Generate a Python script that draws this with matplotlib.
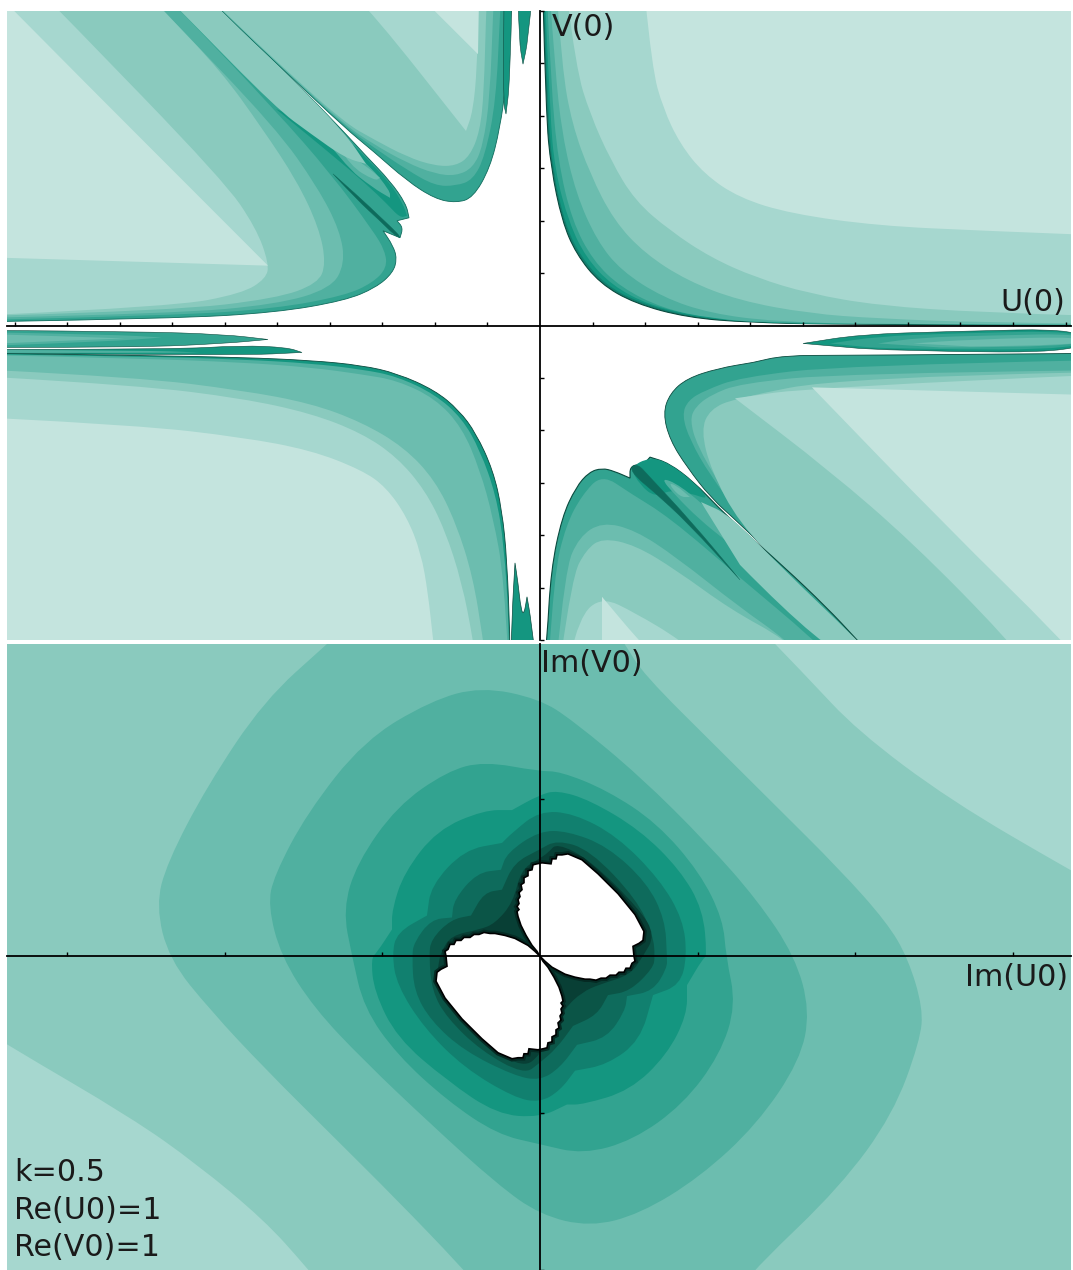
import matplotlib
matplotlib.use('Agg')
import matplotlib.pyplot as plt
from matplotlib.path import Path
from matplotlib.patches import PathPatch
import numpy as np

W, H = 1073, 1270

# band colours, light (far from origin) to dark (close to the boundary)
C1, C2, C3, C4, C5, C6 = '#c4e4de', '#a6d7cf', '#8acabe', '#6cbdaf', '#50b0a0', '#32a390'
C7, C8, C9, C10, C11, C12 = '#149680', '#11806f', '#0e6b5c', '#0b5547', '#083f35', '#052a23'
EDGE = '#0a4a3e'
THIN = '#0e6b5c'

tick_top = 52.55
tick_bottom = 157.7

# ---- top panel, upper right quadrant (U>0, V>0), contours
ur_edge = [[3,330],[6,212],[11,158],[22,105],[36,72],[60,42],[95,22],[147,8],[209,3],[303,1],[545,0]]
ur_c7 = [[4,330],[8,212],[13,155],[25,102],[40,70],[65,41],[99,23],[150,9],[210,3],[303,1],[545,1]]
ur_c6 = [[5,330],[10,212],[15,155],[29,103],[46,68],[72,40],[110,20],[160,9],[220,3],[303,1],[545,1]]
ur_c5 = [[7,330],[11,242],[18,165],[32,105],[53,65],[81,38],[123,17],[171,7],[234,2],[545,1]]
ur_c4 = [[10,330],[15,258],[22,192],[36,132],[57,85],[81,55],[123,28],[171,12],[234,4],[338,1],[545,1]]
ur_c3 = [[17,330],[22,258],[32,202],[50,152],[74,105],[105,72],[147,45],[199,25],[269,12],[338,7],[442,3],[545,2]]
ur_c2 = [[27,330],[36,258],[50,212],[71,165],[95,125],[130,95],[171,68],[216,48],[269,32],[338,20],[442,13],[545,10]]
ur_c1 = [[105,330],[112,258],[123,218],[140,182],[164,152],[199,128],[251,112],[338,100],[442,95],[545,91]]

# ---- upper left quadrant
ul_edge = [[-540,4],[-367,7],[-264,13],[-195,25],[-164,38],[-147,53],[-143,67],[-147,80],[-157,95],[-157,95],
           [-140,88],[-140,88],[-137,98],[-143,105],[-143,105],[-131,108],[-131,108],[-134,122],[-150,145],
           [-174,170],[-195,193],[-253,253],[-316,313],[-332,330]]
ul_c5 = [[-540,6],[-367,10],[-264,17],[-195,30],[-167,43],[-153,58],[-155,75],[-167,95],[-209,152],[-264,215],
         [-357,313],[-374,330]]
ul_c4 = [[-540,8],[-367,12],[-264,21],[-209,37],[-195,62],[-200,95],[-222,138],[-264,198],[-374,313],[-390,330]]
ul_c3 = [[-540,10],[-367,15],[-264,27],[-222,42],[-214,62],[-221,98],[-243,145],[-278,198],[-319,255],
         [-374,313],[-390,330]]
ul_c2 = [[-540,11],[-367,19],[-298,32],[-274,47],[-271,62],[-284,98],[-316,145],[-478,313],[-495,330]]
ul_c1 = [[-540,68],[-272,60],[-272,60],[-524,313],[-540,330]]
ul_strip = [[-374,330],[-357,313],[-264,218],[-229,192],[-195,168],[-174,162],[-174,162],[-195,193],[-253,253],
            [-316,313],[-332,330]]
ul_tip_c7 = [[-264,217],[-195,190],[-174,168],[-150,143],[-137,122],[-133,110],[-133,110],[-140,108],[-153,122],
             [-174,142],[-209,172],[-264,217]]
ul_tip_c5 = [[-229,205],[-195,180],[-170,160],[-150,135],[-150,128],[-150,128],[-167,138],[-195,160],[-229,205]]
ul_tip_c4 = [[-200,178],[-174,160],[-160,148],[-160,148],[-165,145],[-190,160],[-200,178]]
ul_streak = [[-207,152],[-181,129],[-160,109],[-142,92],[-140,88],[-140,88],[-146,91],[-160,105],[-183,126],[-207,152]]

lc_edge = [[-332,330],[-316,313],[-253,253],[-195,198],[-167,175],[-133,145],[-105,127],[-84,123],[-67,128],
           [-50,158],[-40,198],[-34,242],[-29,313],[-28,330]]
lc_c5 = [[-332,330],[-316,313.5],[-253,253.5],[-195,199.5],[-167,179],[-133,156],[-105,140],[-84,140],[-67,146],
         [-55,170],[-44,225],[-40,313],[-39,330]]
lc_c4 = [[-332,330],[-316,314],[-253,254],[-195,201],[-167,182],[-133,163],[-105,152],[-84,150],[-67,158],
         [-57,180],[-50,230],[-47,313],[-46,330]]
lc_c3 = [[-332,330],[-316,314.5],[-253,255],[-195,203],[-167,187],[-133,169],[-105,160],[-84,160],[-70,170],
         [-60,195],[-56,235],[-54,313],[-53,330]]
lc_c2 = [[-185,330],[-167,313],[-74,195],[-74,195],[-67,215],[-63,258],[-62,313],[-61,330]]
lc_c1 = [[-120,330],[-62,272],[-62,272],[-61,330]]
ul_spike1 = [[-22,330],[-21,285],[-17,262],[-17,262],[-12,285],[-8,330]]
ul_spike2 = [[-28,330],[-30,245],[-34,212],[-34,212],[-37,225],[-36,330]]

# ---- lower left quadrant
ll_edge = [[-540,-28],[-402,-30],[-298,-32],[-229,-35],[-178,-40],[-143,-48],[-105,-65],[-81,-85],[-64,-108],
           [-47,-145],[-38,-185],[-33,-235],[-30,-315],[-30,-330]]
ll_c5 = [[-540,-29],[-402,-31],[-298,-34],[-229,-38],[-178,-44],[-143,-51],[-105,-69],[-78,-93],[-60,-125],
         [-44,-170],[-36,-220],[-31,-300],[-31,-330]]
ll_c4 = [[-540,-30],[-402,-33],[-298,-37],[-229,-42],[-178,-49],[-143,-55],[-105,-73],[-78,-102],[-60,-145],
         [-47,-192],[-36,-252],[-32,-330]]
ll_c3 = [[-540,-45],[-402,-52],[-298,-65],[-229,-78],[-178,-97],[-136,-122],[-105,-155],[-84,-198],[-67,-252],
         [-57,-315],[-55,-330]]
ll_c2 = [[-540,-52],[-402,-60],[-298,-73],[-229,-88],[-178,-108],[-143,-132],[-115,-165],[-95,-205],[-78,-258],
         [-67,-315],[-65,-330]]
ll_c1 = [[-540,-93],[-402,-100],[-298,-112],[-229,-125],[-178,-145],[-154,-162],[-133,-192],[-119,-228],
         [-112,-268],[-107,-315],[-105,-330]]
ll_lobe1 = [[-540,-5],[-402,-6],[-315,-9],[-272,-14],[-272,-14],[-315,-18],[-402,-22],[-540,-22]]
ll_lobe1_c5 = [[-540,-7],[-430,-9],[-378,-12],[-378,-12],[-430,-16],[-540,-20]]
ll_lobe1_c4 = [[-540,-9],[-470,-11],[-415,-13],[-415,-13],[-470,-15],[-540,-18]]
ll_lobe2 = [[-540,-24],[-367,-24],[-298,-20],[-253,-22],[-238,-27],[-238,-27],[-298,-30],[-540,-28]]
ll_lobe2_c5 = [[-540,-24.5],[-400,-25],[-340,-27],[-340,-27],[-400,-27.5],[-540,-27.5]]
ll_spikes = [[-29,-330],[-28,-290],[-25,-238],[-25,-238],[-22,-258],[-19,-285],[-16,-290],[-13,-272],[-13,-272],
             [-9,-295],[-5,-330]]

# ---- lower right quadrant
lr_lobe = [[263,-18],[263,-18],[320,-9],[408,-6],[545,-3],[545,-27],[373,-26],[320,-23]]
lr_lobe_c6 = [[290,-18],[290,-18],[338,-11],[408,-8],[545,-5],[545,-24],[373,-24],[330,-22]]
lr_lobe_c5 = [[338,-18],[338,-18],[380,-12],[450,-10],[545,-8],[545,-22],[400,-22]]
lr_lobe_c4 = [[373,-18],[373,-18],[430,-14],[545,-11],[545,-20],[430,-21]]

lr_edge = [[545,-28],[303,-30],[244,-30],[213,-37],[213,-37],[178,-43],[147,-53],[130,-68],[123,-88],[130,-115],
           [147,-142],[171,-173],[199,-198],[244,-242],[286,-282],[317,-315],[332,-332]]
lr_c5 = [[545,-35],[303,-40],[200,-52],[165,-65],[148,-75],[142,-90],[150,-115],[170,-150],[200,-190],[244,-240],
         [290,-290],[330,-332]]
lr_c4 = [[545,-45],[303,-48],[200,-58],[170,-70],[155,-82],[150,-95],[157,-120],[180,-160],[205,-195],[250,-245],
         [295,-295],[335,-332]]
lr_c3 = [[545,-47],[303,-52],[195,-73],[170,-84],[161,-105],[171,-145],[199,-198],[248,-248],[286,-285],
         [314,-315],[330,-332]]
lr_c2 = [[545,-50],[272,-62],[195,-73],[195,-73],[289,-145],[373,-218],[468,-315],[480,-332]]
lr_c1 = [[272,-62],[272,-62],[407,-202],[522,-315],[535,-332]]

lo_edge = [[5,-332],[7,-315],[11,-245],[22,-192],[36,-162],[49,-147],[62,-143],[74,-146],[90,-153],[90,-153],
           [90,-142],[98,-139],[103,-140],[110,-132],[110,-132],[129,-138],[154,-157],[178,-182],[199,-202],
           [244,-242],[286,-282],[317,-315],[332,-332]]
lo_c5 = [[9,-332],[14,-250],[26,-200],[42,-170],[62,-149],[90,-168],[129,-192],[199,-252],[274,-315],[290,-332]]
lo_c4 = [[17,-332],[25,-245],[39,-212],[62,-197],[95,-205],[136,-232],[199,-282],[246,-315],[262,-332]]
lo_c3 = [[21,-332],[32,-252],[46,-225],[62,-213],[95,-220],[136,-245],[191,-285],[246,-315],[262,-332]]
lo_c2 = [[30,-332],[39,-292],[62,-272],[95,-288],[140,-315],[160,-332]]
lo_c1 = [[62,-272],[62,-272],[98,-315],[115,-332],[62,-332]]
lo_strip = [[161,-177],[161,-177],[190,-190],[244,-245],[317,-315],[332,-332],[290,-332],[200,-240]]
lo_wedge_c7 = [[90,-142],[110,-132],[129,-138],[154,-157],[170,-175],[150,-168],[130,-165],[115,-172],[100,-160]]
lo_wedge_c5 = [[120,-152],[140,-160],[175,-190],[185,-215],[185,-215],[160,-195],[135,-170]]
lo_wedge_c4 = [[128,-158],[136,-160],[150,-172],[150,-172],[140,-172]]
lo_streak = [[90,-142],[98,-139],[108,-150],[150,-195],[200,-255],[200,-255],[148,-198],[112,-165],[96,-152]]

# ---- bottom panel, closed level curves around the white set
b_c2_top = [[215,335],[267,281],[317,227],[410,157],[531,86],[560,70]]
b_c2_low = [[-560,-72],[-533,-89],[-409,-162],[-343,-209],[-276,-265],[-234,-312],[-215,-335]]
b_c4 = [[-190,335],[-213,314],[-276,257],[-333,171],[-373,94],[-384,51],[-371,-3],[-329,-55],[-276,-112],[-209,-179],
        [-143,-245],[-79,-312],[-60,-335],[200,-335],[217,-312],[300,-232],[353,-159],[380,-85],[383,-52],[368,-2],
        [347,34],[300,87],[233,154],[180,207],[103,284],[85,314],[70,335]]
b_c5 = [[-1,259],[-59,271],[-109,257],[-176,217],[-233,144],[-266,81],[-272,51],[-259,0],[-226,-52],[-176,-105],
        [-109,-169],[-43,-229],[0,-260],[50,-272],[100,-259],[160,-222],[217,-169],[260,-105],[270,-55],[255,0],
        [217,57],[167,114],[100,181],[33,237]]
b_c6 = [[-1,186],[-56,196],[-93,186],[-143,151],[-183,94],[-197,47],[-188,0],[-176,-52],[-143,-99],[-93,-145],
        [-43,-179],[0,-189],[43,-199],[93,-185],[143,-149],[180,-99],[196,-49],[186,0],[183,37],[160,84],[117,134],
        [67,167],[20,186]]
b_c7 = [[-1,162],[-28,147],[-28,147],[-56,147],[-103,127],[-136,84],[-148,47],[-148,27],[-148,27],[-163,4],[-169,-2],
        [-166,-35],[-143,-82],[-93,-125],[-43,-159],[0,-162],[27,-149],[27,-149],[43,-149],[90,-135],[127,-99],[147,-59],
        [147,-29],[147,-29],[163,-2],[167,0],[163,47],[140,87],[100,127],[50,157],[17,167]]
b_c8 = [[-1,146],[-28,124],[-38,114],[-38,114],[-76,107],[-109,71],[-113,41],[-113,41],[-143,24],[-148,2],[-143,-29],
        [-116,-72],[-76,-112],[-26,-142],[0,-147],[20,-135],[35,-115],[35,-115],[67,-109],[100,-85],[113,-39],[113,-39],
        [140,-29],[147,0],[143,37],[120,77],[77,121],[33,144]]
b_c9 = [[-1,126],[-33,104],[-39,87],[-39,87],[-63,84],[-86,57],[-88,39],[-88,39],[-109,37],[-126,14],[-128,0],
        [-126,-35],[-109,-65],[-76,-95],[-26,-120],[0,-125],[20,-112],[37,-89],[37,-89],[67,-82],[85,-55],[87,-40],
        [87,-40],[113,-35],[127,-12],[127,0],[125,37],[107,74],[67,111],[27,126]]
b_c10 = [[-1,107],[-26,94],[-38,67],[-38,67],[-56,64],[-69,41],[-69,41],[-89,37],[-109,17],[-111,0],[-108,-35],
         [-93,-62],[-59,-95],[-16,-119],[0,-107],[17,-92],[33,-70],[33,-70],[57,-59],[68,-39],[68,-39],[90,-35],
         [113,-12],[115,0],[113,21],[97,57],[50,107],[17,117]]
b_c11 = [[-1,98],[-19,87],[-27,54],[-45,33],[-60,27],[-89,21],[-99,4],[-101,-5],[-104,-25],[-89,-55],[-53,-92],
         [-16,-112],[0,-99],[10,-79],[25,-52],[42,-36],[60,-28],[90,-19],[103,0],[115,21],[100,47],[50,97],[17,114],[8,104]]

# upper lobe of the white set, the lower one is the same lobe through the origin
blob_lobe = [[0,0],[-3,5],[-8,11],[-14,21],[-19,31],[-22,40],[-23,45],[-21,47],[-23,50],[-21,53],[-22,57],[-20,60],
             [-21,64],[-18,67],[-19,72],[-16,74],[-16,79],[-12,81],[-12,86],[-8,87],[-7,92],[-3,93],[2,94],[11,93],
             [12,98],[16,98],[17,102],[22,102],[28,103],[42,97],[58,83],[78,63],[95,42],[104,25],[103,16],[99,13],
             [93,10],[94,0],[95,-5],[92,-7],[90,-12],[86,-12],[84,-16],[79,-16],[76,-19],[70,-19],[66,-22],[61,-22],
             [56,-24],[50,-23],[45,-23],[35,-21],[25,-18],[12,-11],[5,-5]]

top_labels = ['V(0)', 'U(0)']
bottom_labels = ['Im(V0)', 'Im(U0)']
params = ['k=0.5', 'Re(U0)=1', 'Re(V0)=1']


def open_path(pts, close):
    # smooth curve through the read points, straight lines back along close
    pts = np.array(pts, float)
    verts = [pts[0]]
    codes = [Path.MOVETO]
    for i in range(1, len(pts) - 1):
        end = (pts[i] + pts[i + 1]) / 2 if i < len(pts) - 2 else pts[i + 1]
        verts += [pts[i], end]
        codes += [Path.CURVE3, Path.CURVE3]
    if len(pts) == 2:
        verts.append(pts[1])
        codes.append(Path.LINETO)
    for c in close:
        verts.append(c)
        codes.append(Path.LINETO)
    verts.append(pts[0])
    codes.append(Path.CLOSEPOLY)
    return Path(verts, codes)


def loop_path(pts):
    pts = np.array(pts, float)
    n = len(pts)
    verts = [(pts[-1] + pts[0]) / 2]
    codes = [Path.MOVETO]
    for i in range(n):
        verts += [pts[i], (pts[i] + pts[(i + 1) % n]) / 2]
        codes += [Path.CURVE3, Path.CURVE3]
    return Path(verts, codes)


def fill(ax, pts, color, close=(), edge=None, lw=0.8, z=1):
    ax.add_patch(PathPatch(open_path(pts, close), facecolor=color, edgecolor=edge or 'none',
                           linewidth=lw if edge else 0, zorder=z))


def lobe(ax, pts, color, edge=None, lw=0.6):
    # closed shape with smoothed outline
    ax.add_patch(PathPatch(loop_path(pts), facecolor=color, edgecolor=edge or 'none',
                           linewidth=lw if edge else 0, zorder=1))


def setup(ax, ylim, xticks, yticks):
    ax.set_xlim(-533, 531)
    ax.set_ylim(*ylim)
    for s in ['top', 'right']:
        ax.spines[s].set_visible(False)
    ax.spines['left'].set_position('zero')
    ax.spines['bottom'].set_position('zero')
    ax.spines['left'].set_linewidth(1.3)
    ax.spines['bottom'].set_linewidth(1.3)
    ax.set_xticks(xticks)
    ax.set_yticks(yticks)
    ax.set_xticklabels([])
    ax.set_yticklabels([])
    ax.tick_params(direction='in', length=3.2, width=1)


fig = plt.figure(figsize=(W / 100, H / 100), dpi=100)
top = fig.add_axes([7 / W, (H - 640) / H, 1064 / W, 629 / H])
bot = fig.add_axes([7 / W, 0, 1064 / W, 626 / H])

nt = np.arange(-10, 11)
setup(top, (-315, 314), [k * tick_top for k in nt if k != 0], [k * tick_top for k in nt[4:17] if k != 0])
nb = np.arange(-3, 4)
setup(bot, (-312, 314), [k * tick_bottom for k in nb if k != 0], [k * tick_bottom for k in [-2, -1, 1]])

# upper right
ur_corner = [[560, 0], [560, 340], [3, 340]]
fill(top, ur_edge, C8, ur_corner, edge=EDGE)
for pts, col in [(ur_c7, C7), (ur_c6, C6), (ur_c5, C5), (ur_c4, C4), (ur_c3, C3), (ur_c2, C2), (ur_c1, C1)]:
    fill(top, pts, col, [[560, pts[-1][1]], [560, 340], [pts[0][0], 340]])

# upper left
ul_corner = [[-560, 340], [-560, 4]]
fill(top, ul_edge, C6, ul_corner, edge=THIN, lw=0.6)
for pts, col in [(ul_c5, C5), (ul_c4, C4), (ul_c3, C3), (ul_c2, C2), (ul_c1, C1)]:
    fill(top, pts, col, [[pts[-1][0], 340], [-560, 340], [-560, pts[0][1]]])
fill(top, ul_tip_c7, C7)
fill(top, ul_tip_c5, C5)
fill(top, ul_tip_c4, C4)
fill(top, ul_strip, C3, [[-332, 340], [-374, 340]])
fill(top, ul_streak, C9, edge=THIN, lw=0.3)
fill(top, lc_edge, C6, [[-28, 340], [-332, 340]], edge=THIN, lw=0.6)
for pts, col in [(lc_c5, C5), (lc_c4, C4), (lc_c3, C3), (lc_c2, C2), (lc_c1, C1)]:
    fill(top, pts, col, [[pts[-1][0], 340], [pts[0][0], 340]])
fill(top, ul_spike1, C7, [[-8, 340], [-22, 340]], edge=EDGE, lw=0.4)
fill(top, ul_spike2, C7, [[-36, 340], [-28, 340]], edge=EDGE, lw=0.4)

# lower left
ll_corner = lambda p: [[p[-1][0], -340], [-560, -340], [-560, p[0][1]]]
fill(top, ll_edge, C7, ll_corner(ll_edge), edge=EDGE, lw=0.6)
for pts, col in [(ll_c5, C5), (ll_c4, C4), (ll_c3, C3), (ll_c2, C2), (ll_c1, C1)]:
    fill(top, pts, col, ll_corner(pts))
fill(top, ll_lobe1, C6, [[-560, -22], [-560, -5]], edge=EDGE, lw=0.4)
fill(top, ll_lobe1_c5, C5, [[-560, -20], [-560, -7]])
fill(top, ll_lobe1_c4, C4, [[-560, -18], [-560, -9]])
fill(top, ll_lobe2, C7, [[-560, -28], [-560, -24]], edge=EDGE, lw=0.4)
fill(top, ll_lobe2_c5, C5, [[-560, -27.5], [-560, -24.5]])
fill(top, ll_spikes, C7, [[-5, -340], [-29, -340]], edge=EDGE, lw=0.5)

# lower right
fill(top, lr_lobe, C7, edge=EDGE, lw=0.4)
fill(top, lr_lobe_c6, C6)
fill(top, lr_lobe_c5, C5)
fill(top, lr_lobe_c4, C4)
fill(top, lr_edge, C6, [[560, -340], [560, -28]], edge=EDGE, lw=0.6)
for pts, col in [(lr_c5, C5), (lr_c4, C4), (lr_c3, C3)]:
    fill(top, pts, col, [[560, -340], [560, pts[0][1]]])
fill(top, lr_c2, C2, [[560, -340], [560, -50]])
fill(top, lr_c1, C1, [[560, -340], [560, -70], [272, -62]])

fill(top, lo_edge, C6, [[332, -340], [5, -340]], edge=EDGE)
for pts, col in [(lo_c5, C5), (lo_c4, C4), (lo_c3, C3), (lo_c2, C2), (lo_c1, C1)]:
    fill(top, pts, col, [[pts[-1][0], -340], [pts[0][0], -340]])
lobe(top, lo_wedge_c7, C7)
lobe(top, lo_wedge_c5, C5)
lobe(top, lo_wedge_c4, C4)
fill(top, lo_strip, C3)
lobe(top, lo_streak, C9, edge=THIN, lw=0.3)

# bottom panel
bot.set_facecolor(C3)
fill(bot, b_c2_top, C2, [[560, 335]])
fill(bot, b_c2_low, C2, [[-560, -335]])
for pts, col in [(b_c4, C4), (b_c5, C5), (b_c6, C6), (b_c7, C7), (b_c8, C8), (b_c9, C9), (b_c10, C10), (b_c11, C11)]:
    lobe(bot, pts, col)
for sign in [1, -1]:
    xy = np.array(blob_lobe, float) * sign
    bot.fill(xy[:, 0], xy[:, 1], facecolor='none', edgecolor=C12, linewidth=4, zorder=1.4)
for sign in [1, -1]:
    xy = np.array(blob_lobe, float) * sign
    bot.fill(xy[:, 0], xy[:, 1], facecolor='white', edgecolor='black', linewidth=1.2, zorder=1.5)

tc = '#1a1a1a'
fs = 21.7
top.text(12, 290, top_labels[0], fontsize=fs, color=tc, va='baseline')
top.text(525, 15, top_labels[1], fontsize=fs, color=tc, va='baseline', ha='right')
bot.text(1, 286, bottom_labels[0], fontsize=fs, color=tc, va='baseline')
bot.text(528, -30, bottom_labels[1], fontsize=fs, color=tc, va='baseline', ha='right')
for line, y in zip(params, [-226, -264, -301]):
    bot.text(-526, y, line, fontsize=fs, color=tc, va='baseline')

fig.savefig('out.png', dpi=100)
